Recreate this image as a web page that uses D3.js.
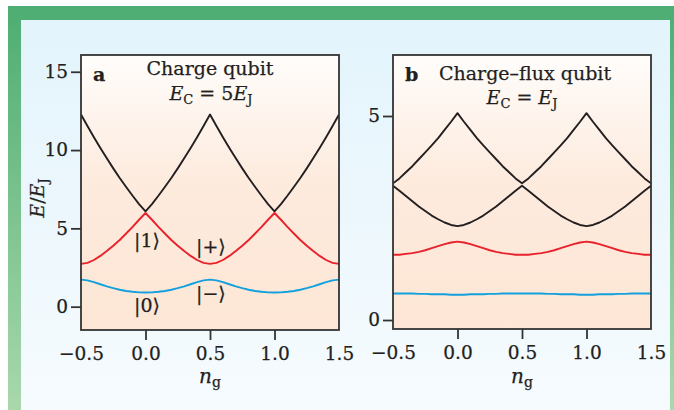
<!DOCTYPE html>
<html>
<head>
<meta charset="utf-8">
<script src="https://cdnjs.cloudflare.com/ajax/libs/d3/7.8.5/d3.min.js"></script>
<style>
body { margin: 0; background: #fff; }
text { font-family: "DejaVu Serif", serif; fill: #231f20; stroke: #231f20; stroke-width: 0.25px; }
</style>
</head>
<body>
<div id="chart"></div>
<script>
// gate charge n_g, every 0.05 from -0.5 to 1.5
var ng = [-0.5, -0.45, -0.4, -0.35, -0.3, -0.25, -0.2, -0.15, -0.1, -0.05, 0,
    0.05, 0.1, 0.15, 0.2, 0.25, 0.3, 0.35, 0.4, 0.45, 0.5,
    0.55, 0.6, 0.65, 0.7, 0.75, 0.8, 0.85, 0.9, 0.95, 1,
    1.05, 1.1, 1.15, 1.2, 1.25, 1.3, 1.35, 1.4, 1.45, 1.5];

// panel a, charge qubit, E/EJ
var blueA = [1.73, 1.68, 1.57, 1.43, 1.30, 1.18, 1.08, 1.00, 0.95, 0.91, 0.90,
    0.91, 0.95, 1.00, 1.08, 1.18, 1.30, 1.43, 1.57, 1.68, 1.73,
    1.68, 1.57, 1.43, 1.30, 1.18, 1.08, 1.00, 0.95, 0.91, 0.90,
    0.91, 0.95, 1.00, 1.08, 1.18, 1.30, 1.43, 1.57, 1.68, 1.73];
var redA = [2.73, 2.80, 2.98, 3.24, 3.55, 3.89, 4.26, 4.67, 5.09, 5.55, 5.98,
    5.55, 5.09, 4.67, 4.26, 3.89, 3.55, 3.24, 2.98, 2.80, 2.73,
    2.80, 2.98, 3.24, 3.55, 3.89, 4.26, 4.67, 5.09, 5.55, 5.98,
    5.55, 5.09, 4.67, 4.26, 3.89, 3.55, 3.24, 2.98, 2.80, 2.73];
var blackA = [12.27, 11.54, 10.82, 10.13, 9.47, 8.83, 8.22, 7.64, 7.08, 6.55, 6.08,
    6.55, 7.08, 7.64, 8.22, 8.83, 9.47, 10.13, 10.82, 11.54, 12.27,
    11.54, 10.82, 10.13, 9.47, 8.83, 8.22, 7.64, 7.08, 6.55, 6.08,
    6.55, 7.08, 7.64, 8.22, 8.83, 9.47, 10.13, 10.82, 11.54, 12.27];

// panel b, charge-flux qubit
var blueB = [0.65, 0.65, 0.65, 0.65, 0.64, 0.64, 0.63, 0.63, 0.63, 0.62, 0.62,
    0.62, 0.63, 0.63, 0.63, 0.64, 0.64, 0.65, 0.65, 0.65, 0.65,
    0.65, 0.65, 0.65, 0.64, 0.64, 0.63, 0.63, 0.63, 0.62, 0.62,
    0.62, 0.63, 0.63, 0.63, 0.64, 0.64, 0.65, 0.65, 0.65, 0.65];
var redB = [1.60, 1.60, 1.62, 1.64, 1.67, 1.71, 1.76, 1.81, 1.86, 1.90, 1.92,
    1.90, 1.86, 1.81, 1.76, 1.71, 1.67, 1.64, 1.62, 1.60, 1.60,
    1.60, 1.62, 1.64, 1.67, 1.71, 1.76, 1.81, 1.86, 1.90, 1.92,
    1.90, 1.86, 1.81, 1.76, 1.71, 1.67, 1.64, 1.62, 1.60, 1.60];
var lowB = [3.29, 3.17, 3.04, 2.91, 2.78, 2.67, 2.56, 2.47, 2.39, 2.33, 2.30,
    2.33, 2.39, 2.47, 2.56, 2.67, 2.78, 2.91, 3.04, 3.17, 3.29,
    3.17, 3.04, 2.91, 2.78, 2.67, 2.56, 2.47, 2.39, 2.33, 2.30,
    2.33, 2.39, 2.47, 2.56, 2.67, 2.78, 2.91, 3.04, 3.17, 3.29];
var upB = [3.35, 3.47, 3.62, 3.77, 3.94, 4.11, 4.28, 4.46, 4.66, 4.86, 5.07,
    4.86, 4.66, 4.46, 4.28, 4.11, 3.94, 3.77, 3.62, 3.47, 3.35,
    3.47, 3.62, 3.77, 3.94, 4.11, 4.28, 4.46, 4.66, 4.86, 5.07,
    4.86, 4.66, 4.46, 4.28, 4.11, 3.94, 3.77, 3.62, 3.47, 3.35];

// tick labels
var xTicks = [-0.5, 0, 0.5, 1, 1.5];
var yTicksA = [0, 5, 10, 15];
var yTicksB = [0, 5];

var BLACK = "#231f20", RED = "#e8212b", BLUE = "#12a1dd";

var svg = d3.select("#chart")
    .append("svg")
    .attr("width", 674)
    .attr("height", 410);

var defs = svg.append("defs");

function vgrad(id, stops) {
    var gr = defs.append("linearGradient")
        .attr("id", id)
        .attr("x1", 0).attr("y1", 0).attr("x2", 0).attr("y2", 1);
    stops.forEach(function(s) {
        gr.append("stop").attr("offset", s[0]).attr("stop-color", s[1]);
    });
}
vgrad("green", [["0%", "#4dad72"], ["100%", "#a9d8ac"]]);
vgrad("sky", [["0%", "#e3f4fc"], ["100%", "#f6fbfe"]]);
vgrad("peach", [["0%", "#fffdfb"], ["45%", "#fdebde"], ["100%", "#fde6d5"]]);

//frame of the page
svg.append("rect")
    .attr("x", 8).attr("y", 6)
    .attr("width", 666).attr("height", 404)
    .attr("fill", "url(#green)");
svg.append("rect")
    .attr("x", 21).attr("y", 20)
    .attr("width", 649).attr("height", 390)
    .attr("fill", "url(#sky)");

function drawPanel(p) {
    var x = d3.scaleLinear().domain([-0.5, 1.5]).range([p.left, p.right]);
    var y = d3.scaleLinear().domain(p.ydom).range([p.bottom, p.top]);

    var g = svg.append("g");

    defs.append("clipPath")
        .attr("id", p.id + "-clip")
        .append("rect")
        .attr("x", p.left).attr("y", p.top)
        .attr("width", p.right - p.left).attr("height", p.bottom - p.top);

    g.append("rect")
        .attr("x", p.left).attr("y", p.top)
        .attr("width", p.right - p.left).attr("height", p.bottom - p.top)
        .attr("fill", "url(#peach)");

    //x axis
    var xa = g.append("g")
        .attr("transform", "translate(0," + p.bottom + ")")
        .call(d3.axisBottom(x).tickValues(xTicks).tickSize(10).tickPadding(7)
            .tickFormat(d3.format(".1f")));
    xa.select(".domain").remove();
    xa.selectAll(".tick line")
        .attr("stroke", "#333").attr("stroke-width", 1.8)
        .filter(function(d) { return d == -0.5 || d == 1.5; }).remove();
    xa.selectAll("text").attr("font-size", "18.5px")
        .attr("font-family", "DejaVu Serif").attr("fill", BLACK);

    //y axis
    var ya = g.append("g")
        .attr("transform", "translate(" + p.left + ",0)")
        .call(d3.axisLeft(y).tickValues(p.yticks).tickSize(10).tickPadding(3)
            .tickFormat(d3.format("d")));
    ya.select(".domain").remove();
    ya.selectAll(".tick line").attr("stroke", "#333").attr("stroke-width", 1.8);
    ya.selectAll("text").attr("font-size", "18.5px")
        .attr("font-family", "DejaVu Serif").attr("fill", BLACK);

    var line = d3.line()
        .x(function(d, i) { return x(ng[i]); })
        .y(function(d) { return y(d); });

    var curves = g.append("g").attr("clip-path", "url(#" + p.id + "-clip)");
    p.series.forEach(function(s) {
        curves.append("path")
            .datum(s.values)
            .attr("d", line)
            .attr("fill", "none")
            .attr("stroke", s.color)
            .attr("stroke-width", 1.9)
            .attr("stroke-linejoin", "round");
    });

    g.append("rect")
        .attr("x", p.left).attr("y", p.top)
        .attr("width", p.right - p.left).attr("height", p.bottom - p.top)
        .attr("fill", "none")
        .attr("stroke", "#333")
        .attr("stroke-width", 1.8);

    //n_g under the axis
    var xl = g.append("text")
        .attr("x", (p.left + p.right) / 2)
        .attr("y", 383)
        .attr("text-anchor", "middle")
        .attr("font-size", "20px");
    xl.append("tspan").style("font-style", "italic").text("n");
    xl.append("tspan").attr("font-size", "14px").attr("dy", 4).text("g");

    return g;
}

// E_C = ... line with subscripts
function energyText(g, cx, by, middle) {
    var t = g.append("text")
        .attr("x", cx).attr("y", by)
        .attr("text-anchor", "middle")
        .attr("font-size", "19px");
    t.append("tspan").style("font-style", "italic").text("E");
    t.append("tspan").attr("font-size", "13px").attr("dy", 4).text("C");
    t.append("tspan").attr("dy", -4).text(middle);
    t.append("tspan").style("font-style", "italic").text("E");
    t.append("tspan").attr("font-size", "13px").attr("dy", 4).text("J");
}

var ga = drawPanel({
    id: "a", left: 81, right: 339, top: 55, bottom: 330,
    ydom: [-1.49, 16.07], yticks: yTicksA,
    series: [{values: blackA, color: BLACK}, {values: redA, color: RED}, {values: blueA, color: BLUE}]
});
var gb = drawPanel({
    id: "b", left: 393, right: 651, top: 55, bottom: 329,
    ydom: [-0.22, 6.495], yticks: yTicksB,
    series: [{values: upB, color: BLACK}, {values: lowB, color: BLACK}, {values: redB, color: RED}, {values: blueB, color: BLUE}]
});

//panel a texts
ga.append("text").attr("x", 93).attr("y", 81)
    .attr("font-size", "19px").attr("font-weight", "bold").text("a");
ga.append("text").attr("x", 210).attr("y", 75)
    .attr("text-anchor", "middle").attr("font-size", "19px").text("Charge qubit");
energyText(ga, 211, 100, " = 5");

var kets = [["|1\u27E9", 134, 247], ["|+\u27E9", 196, 253], ["|0\u27E9", 134, 312], ["|\u2212\u27E9", 196, 300]];
kets.forEach(function(k) {
    ga.append("text").attr("x", k[1]).attr("y", k[2])
        .attr("font-size", "19px").text(k[0]);
});

//panel b texts
gb.append("text").attr("x", 405).attr("y", 81)
    .attr("font-size", "19px").attr("font-weight", "bold").text("b");
gb.append("text").attr("x", 525).attr("y", 80)
    .attr("text-anchor", "middle").attr("font-size", "19px").text("Charge\u2013flux qubit");
energyText(gb, 522, 104, " = ");

//y label
var yl = svg.append("text")
    .attr("transform", "translate(44,198) rotate(-90)")
    .attr("text-anchor", "middle")
    .attr("font-size", "19px");
yl.append("tspan").style("font-style", "italic").text("E");
yl.append("tspan").text("/");
yl.append("tspan").style("font-style", "italic").text("E");
yl.append("tspan").attr("font-size", "13px").attr("dy", 4).text("J");
</script>
</body>
</html>
